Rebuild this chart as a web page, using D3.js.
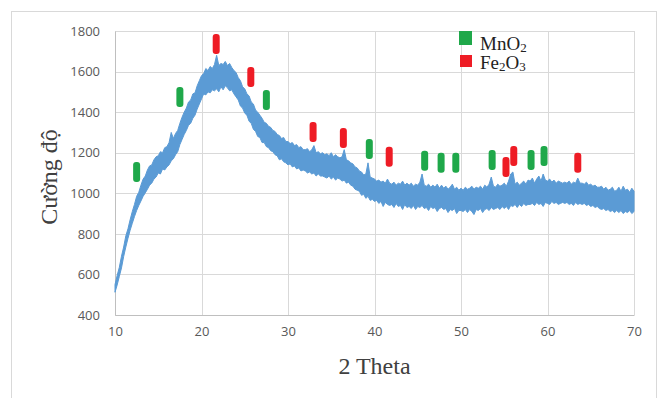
<!DOCTYPE html>
<html>
<head>
<meta charset="utf-8">
<script src="https://cdn.jsdelivr.net/npm/d3@7"></script>
<style>
  body { margin: 0; background: #fff; }
  .tick text { font-family: "Open Sans", sans-serif; font-size: 13px; fill: #595959; }
  .axis-title { font-family: "Liberation Serif", serif; font-size: 24px; fill: #404040; }
  .legend text { font-family: "Liberation Serif", serif; font-size: 19px; fill: #222; }
</style>
</head>
<body>
<div id="chart"></div>
<script>
// 2 theta sampled every 0.25 deg, upper and lower edge of the noisy trace
var theta = d3.range(241).map(function(i) { return 10 + i * 0.25; });
var upper = [
  550, 595, 635, 690, 735, 790, 825, 870,
  910, 945, 985, 1005, 1040, 1070, 1085, 1115,
  1135, 1140, 1165, 1180, 1185, 1205, 1200, 1225,
  1230, 1250, 1300, 1270, 1295, 1310, 1345, 1375,
  1400, 1420, 1450, 1460, 1490, 1495, 1530, 1555,
  1580, 1590, 1615, 1605, 1625, 1615, 1635, 1680,
  1630, 1640, 1635, 1650, 1630, 1640, 1620, 1605,
  1595, 1570, 1555, 1525, 1515, 1490, 1480, 1450,
  1440, 1410, 1400, 1385, 1370, 1350, 1345, 1330,
  1325, 1310, 1305, 1290, 1285, 1270, 1275, 1255,
  1255, 1245, 1250, 1235, 1240, 1225, 1230, 1215,
  1215, 1220, 1205, 1215, 1235, 1200, 1205, 1195,
  1200, 1190, 1195, 1185, 1200, 1180, 1190, 1180,
  1175, 1180, 1215, 1165, 1160, 1150, 1145, 1130,
  1125, 1110, 1105, 1090, 1095, 1150, 1080, 1075,
  1070, 1060, 1065, 1055, 1060, 1050, 1070, 1050,
  1045, 1055, 1040, 1050, 1045, 1060, 1040, 1050,
  1040, 1050, 1035, 1045, 1040, 1055, 1095, 1040,
  1035, 1045, 1030, 1040, 1030, 1045, 1025, 1040,
  1025, 1035, 1020, 1030, 1045, 1020, 1030, 1015,
  1025, 1015, 1030, 1020, 1025, 1035, 1020, 1030,
  1025, 1035, 1020, 1040, 1030, 1045, 1080, 1035,
  1030, 1045, 1035, 1040, 1050, 1035, 1060, 1095,
  1105, 1045, 1055, 1040, 1050, 1060, 1045, 1065,
  1060, 1075, 1050, 1070, 1085, 1060, 1095, 1065,
  1060, 1070, 1055, 1065, 1050, 1060, 1055, 1050,
  1055, 1050, 1060, 1045, 1055, 1050, 1075, 1050,
  1050, 1045, 1055, 1040, 1045, 1035, 1040, 1030,
  1030, 1035, 1020, 1030, 1015, 1020, 1030, 1010,
  1015, 1030, 1010, 1035, 1015, 1020, 1005, 1025,
  1010];
var lower = [
  512, 548, 590, 632, 688, 735, 778, 818,
  852, 885, 915, 940, 962, 985, 1002, 1020,
  1040, 1050, 1070, 1080, 1100, 1095, 1120, 1115,
  1130, 1140, 1160, 1170, 1190, 1205, 1240, 1265,
  1290, 1310, 1335, 1345, 1370, 1385, 1415, 1440,
  1465, 1490, 1485, 1500, 1495, 1510, 1505, 1515,
  1500, 1525, 1510, 1530, 1520, 1505, 1510, 1490,
  1475, 1460, 1430, 1420, 1395, 1385, 1355, 1345,
  1315, 1305, 1280, 1275, 1250, 1250, 1230, 1225,
  1210, 1205, 1190, 1185, 1165, 1170, 1155, 1150,
  1140, 1145, 1130, 1135, 1120, 1125, 1110, 1115,
  1110, 1100, 1105, 1095, 1100, 1085, 1095, 1085,
  1085, 1080, 1075, 1085, 1070, 1080, 1065, 1075,
  1070, 1060, 1065, 1050, 1055, 1040, 1035, 1020,
  1015, 1010, 990, 995, 975, 985, 965, 970,
  960, 965, 950, 960, 935, 955, 945, 940,
  945, 930, 950, 935, 940, 920, 945, 930,
  935, 925, 940, 920, 935, 930, 940, 925,
  930, 915, 935, 925, 930, 910, 925, 930,
  920, 925, 905, 920, 915, 925, 900, 915,
  915, 910, 920, 905, 920, 910, 895, 920,
  915, 925, 905, 920, 925, 915, 930, 920,
  925, 930, 920, 935, 925, 935, 920, 940,
  935, 945, 930, 945, 935, 950, 940, 945,
  945, 950, 940, 955, 945, 950, 935, 955,
  950, 945, 960, 950, 955, 945, 950, 955,
  950, 955, 945, 950, 940, 955, 945, 950,
  945, 950, 940, 945, 935, 940, 930, 935,
  925, 920, 925, 915, 920, 910, 915, 905,
  915, 905, 915, 900, 910, 905, 915, 900,
  910];

// peak marks
var mno2Theta = [12.5, 17.5, 27.5, 39.4, 45.8, 47.7, 49.4, 53.6, 58.1, 59.6];
var mno2Level = [1105, 1475, 1460, 1218, 1160, 1150, 1150, 1164, 1164, 1184];
var fe2o3Theta = [21.7, 25.7, 32.9, 36.4, 41.7, 55.2, 56.1, 63.5];
var fe2o3Level = [1736, 1573, 1302, 1273, 1180, 1130, 1184, 1150];

var xTicks = [10, 20, 30, 40, 50, 60, 70];
var yTicks = [400, 600, 800, 1000, 1200, 1400, 1600, 1800];

var W = 660, H = 398;
var margin = {top: 31, right: 26, bottom: 83, left: 115},
    width = W - margin.left - margin.right,
    height = H - margin.top - margin.bottom;

var xScale = d3.scaleLinear().domain([10, 70]).range([0, width]);
var yScale = d3.scaleLinear().domain([400, 1800]).range([height, 0]);

var root = d3.select("#chart").append("svg")
    .attr("width", W)
    .attr("height", H);

// outer chart frame
root.append("rect")
    .attr("x", 11.5).attr("y", 11.5)
    .attr("width", 645).attr("height", 400)
    .attr("fill", "none")
    .attr("stroke", "#d9d9d9");

var svg = root.append("g")
    .attr("transform", "translate(" + margin.left + "," + margin.top + ")");

// gridlines
svg.append("g").selectAll("line").data(yTicks).join("line")
    .attr("x1", 0).attr("x2", width)
    .attr("y1", function(d) { return Math.round(yScale(d)) + 0.5; })
    .attr("y2", function(d) { return Math.round(yScale(d)) + 0.5; })
    .attr("stroke", "#d9d9d9");
svg.append("g").selectAll("line").data(xTicks).join("line")
    .attr("y1", 0).attr("y2", height)
    .attr("x1", function(d) { return Math.round(xScale(d)) + 0.5; })
    .attr("x2", function(d) { return Math.round(xScale(d)) + 0.5; })
    .attr("stroke", "#d9d9d9");

// axes, labels only
var xAxis = d3.axisBottom(xScale).tickValues(xTicks).tickSize(0).tickPadding(12)
    .tickFormat(d3.format("d"));
var yAxis = d3.axisLeft(yScale).tickValues(yTicks).tickSize(0).tickPadding(15)
    .tickFormat(d3.format("d"));

svg.append("g")
    .attr("transform", "translate(0," + height + ")")
    .call(xAxis)
    .call(function(g) { g.select(".domain").attr("stroke", "#bfbfbf"); });
svg.append("g")
    .call(yAxis)
    .call(function(g) { g.select(".domain").attr("stroke", "#bfbfbf"); });

// trace band
var band = d3.area()
    .x(function(d, i) { return xScale(theta[i]); })
    .y0(function(d, i) { return yScale(lower[i]); })
    .y1(function(d, i) { return yScale(upper[i]); });

svg.append("path")
    .datum(theta)
    .attr("fill", "#5b9bd5")
    .attr("stroke", "#5b9bd5")
    .attr("stroke-width", 1)
    .attr("d", band);

// peak marks
function marks(xs, ys, color) {
    svg.append("g").selectAll("rect").data(xs).join("rect")
        .attr("x", function(d) { return xScale(d) - 3.5; })
        .attr("y", function(d, i) { return yScale(ys[i]) - 10; })
        .attr("width", 7).attr("height", 20)
        .attr("rx", 3).attr("ry", 3)
        .attr("fill", color);
}
marks(mno2Theta, mno2Level, "#1fa84a");
marks(fe2o3Theta, fe2o3Level, "#ee1c25");

// axis titles
svg.append("text")
    .attr("class", "axis-title")
    .attr("x", width / 2).attr("y", height + 59)
    .attr("text-anchor", "middle")
    .text("2 Theta");
svg.append("text")
    .attr("class", "axis-title")
    .attr("transform", "translate(-58," + (height / 2 + 4) + ") rotate(-90)")
    .attr("text-anchor", "middle")
    .text("Cường độ");

// legend
var legend = root.append("g").attr("class", "legend");
legend.append("rect").attr("x", 459).attr("y", 31).attr("width", 13).attr("height", 14).attr("fill", "#1fa84a");
legend.append("rect").attr("x", 460).attr("y", 55).attr("width", 12).attr("height", 12).attr("fill", "#ee1c25");
var t1 = legend.append("text").attr("x", 480).attr("y", 50);
t1.append("tspan").text("MnO");
t1.append("tspan").attr("font-size", 13).attr("dy", 2).text("2");
var t2 = legend.append("text").attr("x", 480).attr("y", 69);
t2.append("tspan").text("Fe");
t2.append("tspan").attr("font-size", 13).attr("dy", 2).text("2");
t2.append("tspan").attr("dy", -2).text("O");
t2.append("tspan").attr("font-size", 13).attr("dy", 2).text("3");
</script>
</body>
</html>
